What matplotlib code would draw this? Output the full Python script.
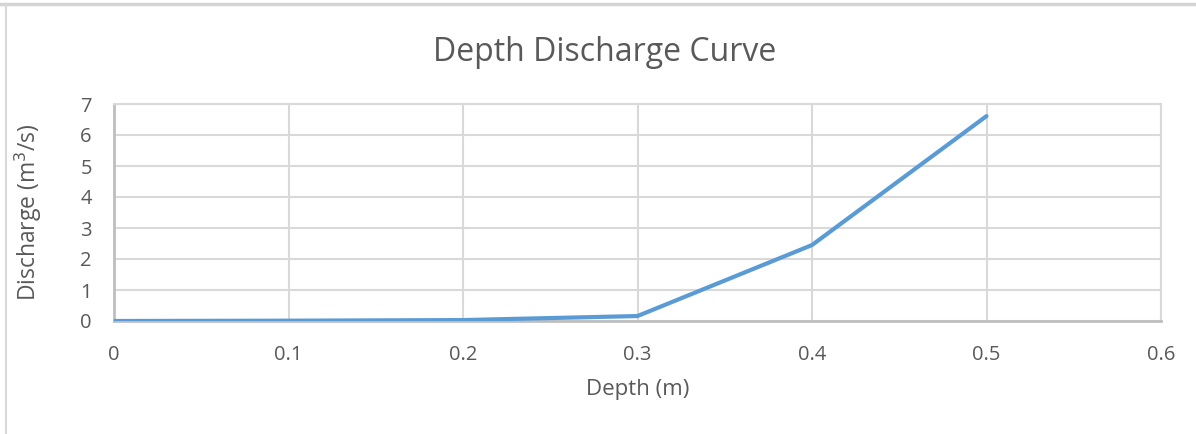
import matplotlib
matplotlib.use('Agg')
from matplotlib import pyplot as plt
from matplotlib.lines import Line2D

matplotlib.rcParams['font.family'] = ['Open Sans', 'DejaVu Sans']

depth = [0.0, 0.1, 0.2, 0.3, 0.4, 0.5]
discharge = [0.0, 0.01, 0.03, 0.16, 2.45, 6.61]
x_ticks = [0, 0.1, 0.2, 0.3, 0.4, 0.5, 0.6]
x_labels = ['0', '0.1', '0.2', '0.3', '0.4', '0.5', '0.6']
y_ticks = [0, 1, 2, 3, 4, 5, 6, 7]

text_col = '#595959'
grid_col = '#d9d9d9'

fig = plt.figure(figsize=(11.96, 4.34), dpi=100)
ax = fig.add_axes([114 / 1196, 1 - 321 / 434, (1161 - 114) / 1196, (321 - 104) / 434])

ax.plot(depth, discharge, color='#5b9bd5', lw=3, solid_capstyle='round', zorder=3)

ax.set_xlim(0, 0.6)
ax.set_ylim(0, 7)
ax.set_xticks(x_ticks)
ax.set_xticklabels(x_labels)
ax.set_yticks(y_ticks)
ax.grid(True, color=grid_col, lw=1.5)
ax.set_axisbelow(True)
ax.tick_params(length=0, labelsize=14.5, colors=text_col)
ax.tick_params(axis='x', pad=17)
ax.tick_params(axis='y', pad=16)

for side in ['top', 'right']:
    ax.spines[side].set_color(grid_col)
    ax.spines[side].set_linewidth(1.5)
for side in ['left', 'bottom']:
    ax.spines[side].set_color('#bfbfbf')
    ax.spines[side].set_linewidth(2)

# chart title is centred on the whole chart area, not the plot area
fig.text(605 / 1196, 1 - 61 / 434, 'Depth Discharge Curve', fontsize=23,
         color=text_col, ha='center', va='baseline')
ax.set_xlabel('Depth (m)', fontsize=16, color=text_col, labelpad=10)
ax.set_ylabel('Discharge (m$^3$/s)', fontsize=16.5, color=text_col, labelpad=26)

# outer chart frame edges
fig.add_artist(Line2D([0, 1], [1 - 4 / 434] * 2, color='#d4d4d4', lw=2.5))
fig.add_artist(Line2D([6 / 1196] * 2, [0, 1 - 5 / 434], color='#d9d9d9', lw=1.5))

fig.savefig('out.png', dpi=100)
